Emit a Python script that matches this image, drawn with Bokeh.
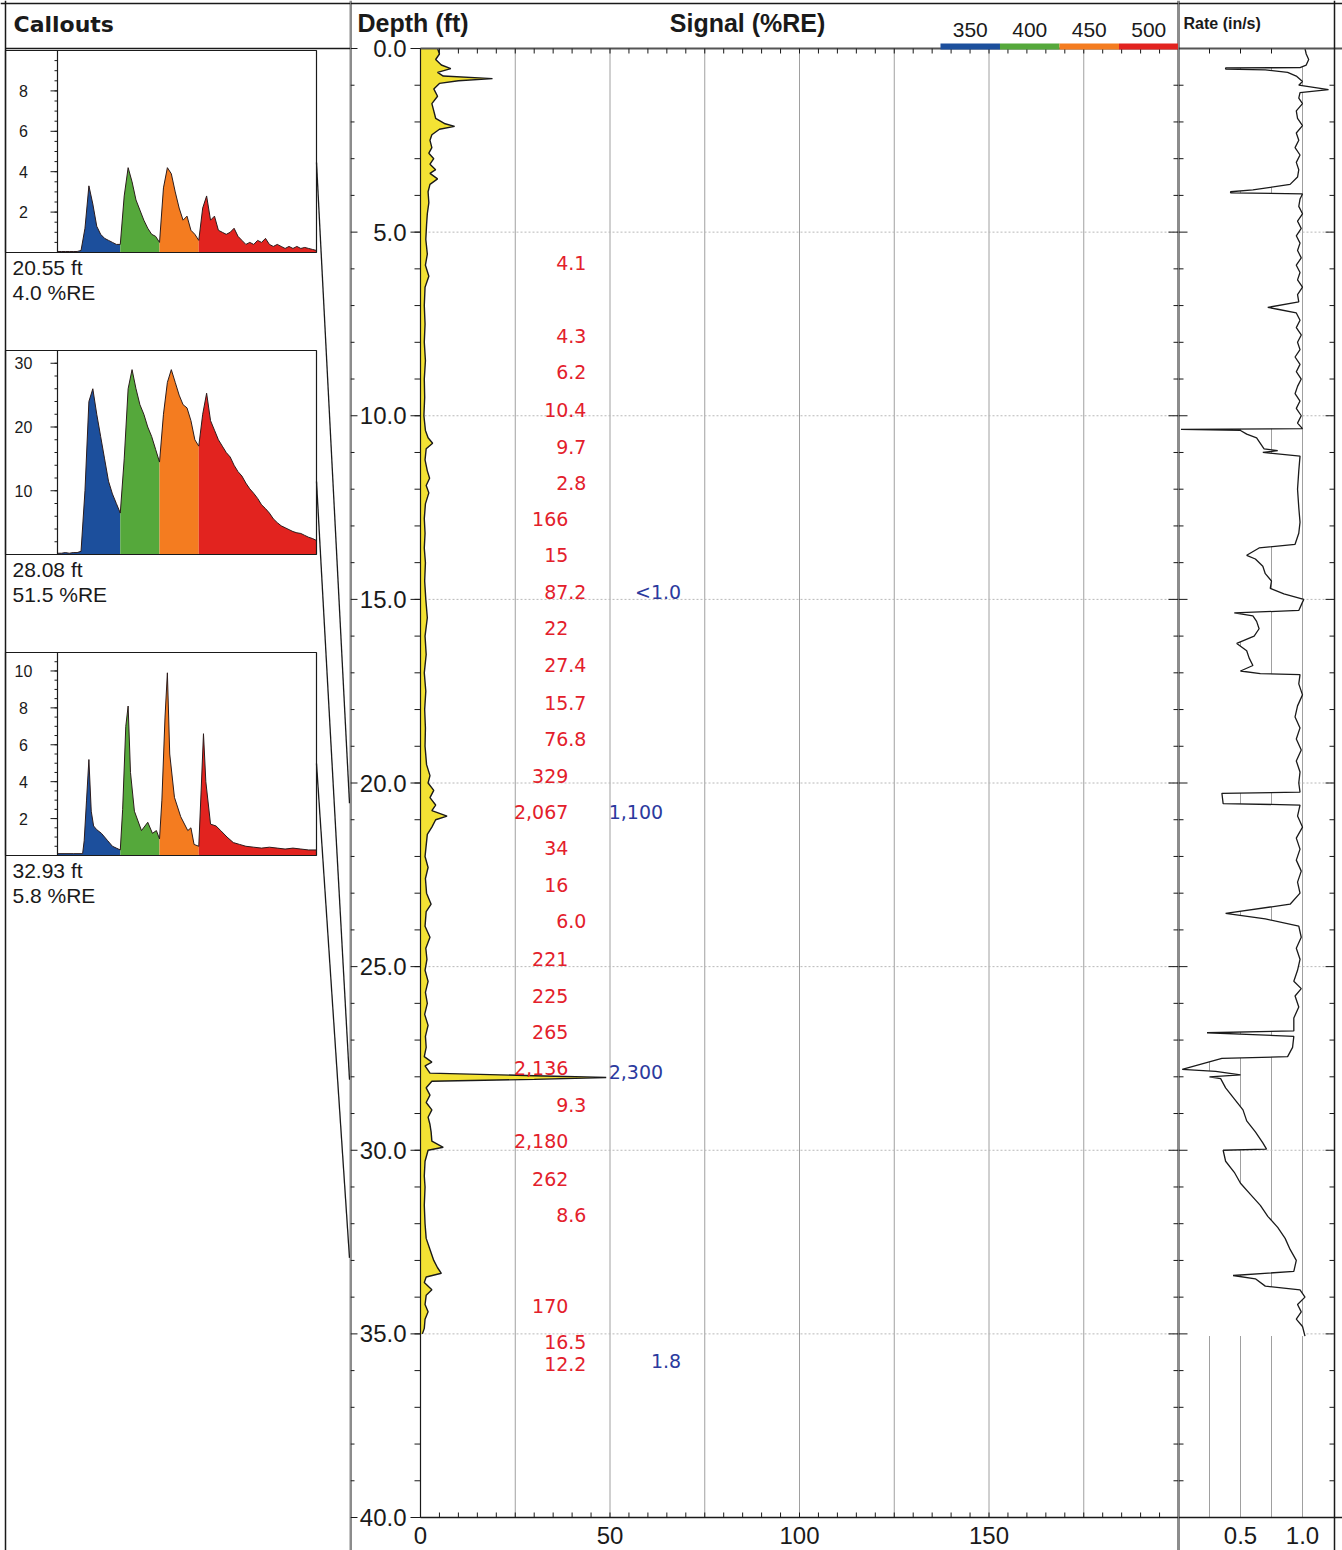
from bokeh.plotting import figure
from bokeh.models import Range1d, ColumnDataSource
from bokeh.layouts import row
from bokeh.embed import file_html
from bokeh.resources import INLINE
from bokeh.core.properties import value

# ---------------------------------------------------------------- data
channel_names = ["350", "400", "450", "500"]
channel_colors = ["#1c4f9c", "#55a83b", "#f47c20", "#e2231f"]
channel_edges = [320, 400, 450, 500, 650]          # nm limits of each channel

callout_depth = [20.55, 28.08, 32.93]
callout_re = [4.0, 51.5, 5.8]
callout_ymax = [10.0, 32.0, 11.0]
callout_ticks = [[2, 4, 6, 8], [10, 20, 30], [2, 4, 6, 8, 10]]
callout_minor_step = [0.5, 2.0, 0.5]

wf_nm = list(range(320, 655, 5))
wf1_y = [0.05, 0.05, 0.05, 0.05, 0.05, 0.05, 0.1, 1.2, 3.3, 2.4,
         1.3, 0.9, 0.7, 0.6, 0.5, 0.4, 0.4, 2.8, 4.2, 3.5,
         2.6, 2.1, 1.6, 1.2, 0.9, 0.8, 0.5, 3.2, 4.2, 3.9,
         3.0, 2.2, 1.6, 1.8, 1.1, 0.9, 0.6, 2.2, 2.8, 1.6,
         1.8, 1.1, 1.0, 0.9, 1.0, 1.2, 0.8, 0.6, 0.4, 0.5,
         0.4, 0.6, 0.5, 0.7, 0.4, 0.3, 0.4, 0.3, 0.2, 0.3,
         0.2, 0.3, 0.2, 0.25, 0.2, 0.15, 0.1]
wf2_y = [0.2, 0.2, 0.3, 0.2, 0.3, 0.3, 0.5, 10, 24, 26,
         22, 18.5, 15, 11.5, 9.5, 8, 6.5, 15, 26, 29,
         26, 23.5, 22, 20, 18.5, 16.5, 14.5, 22, 27, 29,
         27, 25, 23.5, 23, 21, 18, 17, 22, 25.3, 21,
         19.5, 18, 17, 16, 15.3, 14, 13, 12.3, 11.2, 10.3,
         9.6, 8.8, 7.8, 7.2, 6.5, 5.6, 5, 4.5, 4.2, 3.9,
         3.6, 3.4, 3.3, 3.0, 2.7, 2.5, 2.2]
wf3_x = [320, 340, 352, 354, 357, 360, 363, 366, 370, 376,
         384, 390, 395, 400, 403, 407, 410, 413, 418, 427,
         435, 441, 446, 450, 453, 457, 460, 463, 469, 477,
         486, 490, 494, 500, 503, 506, 509, 515, 522, 528,
         536, 544, 552, 560, 570, 580, 590, 600, 610, 620,
         630, 640, 650]
wf3_y = [0.1, 0.1, 0.1, 0.8, 3.0, 5.2, 2.4, 1.6, 1.4, 1.2,
         0.8, 0.5, 0.4, 0.3, 2.5, 7.0, 8.1, 4.5, 2.4, 1.35,
         1.8, 1.2, 1.35, 0.9, 3.0, 7.5, 9.9, 5.5, 3.15, 2.1,
         1.35, 1.5, 0.6, 0.5, 3.5, 6.6, 4.0, 1.7, 1.6, 1.35,
         1.0, 0.7, 0.6, 0.5, 0.45, 0.4, 0.45, 0.4, 0.35, 0.4,
         0.35, 0.3, 0.3]
waveforms = [(wf_nm, wf1_y), (wf_nm, wf2_y), (wf3_x, wf3_y)]

sig_depth = [0.0, 0.15, 0.3, 0.45, 0.55, 0.65, 0.75, 0.82, 0.88, 0.95,
             1.1, 1.3, 1.5, 1.7, 1.9, 2.05, 2.12, 2.2, 2.35, 2.5,
             2.7, 2.85, 3.0, 3.15, 3.3, 3.4, 3.55, 3.7, 3.9, 4.2,
             4.5, 4.8, 5.2, 5.6, 5.9, 6.2, 6.5, 7.0, 7.5, 8.0,
             8.5, 9.0, 9.5, 10.0, 10.4, 10.6, 10.75, 10.9, 11.2, 11.5,
             11.7, 11.9, 12.1, 12.4, 12.8, 13.2, 13.6, 14.0, 14.5, 15.0,
             15.5, 16.0, 16.5, 17.0, 17.5, 18.0, 18.5, 19.0, 19.5, 19.8,
             20.0, 20.2, 20.4, 20.6, 20.75, 20.9, 21.0, 21.2, 21.4, 21.7,
             22.0, 22.3, 22.6, 23.0, 23.3, 23.5, 23.9, 24.2, 24.5, 24.8,
             25.1, 25.4, 25.7, 26.0, 26.3, 26.6, 26.9, 27.2, 27.45, 27.6,
             27.7, 27.9, 27.97, 28.02, 28.07, 28.12, 28.3, 28.5, 28.7, 28.9,
             29.1, 29.3, 29.5, 29.75, 29.92, 30.0, 30.3, 30.7, 31.0, 31.5,
             32.0, 32.4, 32.7, 33.0, 33.2, 33.35, 33.45, 33.6, 33.8, 33.95,
             34.2, 34.4, 34.6, 34.85, 35.0]
sig_value = [4.5, 5.0, 4.0, 5.5, 8.0, 4.5, 6.0, 19.0, 10.0, 5.0,
             3.5, 4.5, 3.0, 3.5, 4.0, 6.5, 9.0, 5.0, 3.0, 2.5,
             3.0, 2.2, 3.5, 2.5, 4.0, 2.5, 4.5, 2.5, 2.0, 2.2,
             1.8, 1.6, 1.4, 1.8, 1.3, 2.2, 1.2, 1.0, 1.2, 1.0,
             1.3, 1.0, 1.1, 0.9, 1.3, 2.0, 3.2, 1.5, 1.2, 1.8,
             2.4, 1.5, 2.2, 1.3, 1.0, 1.2, 1.0, 1.3, 1.1, 1.4,
             1.8, 1.2, 1.5, 1.0, 1.4, 1.1, 1.3, 1.2, 1.6, 2.5,
             2.0, 3.5, 2.5, 4.0, 3.0, 7.0, 4.0, 3.0, 1.8, 1.5,
             1.2, 2.0, 1.3, 1.6, 2.8, 1.5, 1.2, 2.5, 1.4, 1.7,
             1.2, 2.0, 1.3, 1.8, 1.1, 2.0, 1.3, 1.5, 1.0, 3.0,
             1.2, 2.5, 30.0, 49.0, 30.0, 3.0, 1.5, 2.5, 1.5, 3.0,
             2.0, 2.5, 2.8, 3.0, 6.0, 2.0, 1.2, 1.0, 1.2, 1.0,
             1.2, 1.5, 2.5, 3.5, 4.5, 5.5, 1.5, 1.0, 3.0, 1.5,
             1.2, 2.0, 1.2, 1.0, 0.5]

rate_depth = [0.0, 0.15, 0.3, 0.45, 0.52, 0.53, 0.56, 0.58, 0.65, 0.75,
              0.9, 1.0, 1.12, 1.2, 1.35, 1.5, 1.7, 1.9, 2.1, 2.3,
              2.5, 2.7, 2.9, 3.1, 3.3, 3.5, 3.7, 3.85, 3.9, 3.93,
              3.96, 4.1, 4.3, 4.5, 4.7, 4.9, 5.1, 5.3, 5.5, 5.7,
              5.9, 6.1, 6.3, 6.5, 6.7, 6.9, 7.05, 7.1, 7.2, 7.4,
              7.6, 7.8, 8.0, 8.2, 8.4, 8.6, 8.8, 9.0, 9.2, 9.4,
              9.6, 9.8, 10.0, 10.2, 10.35, 10.37, 10.4, 10.5, 10.6, 10.75,
              10.9, 10.95, 11.0, 11.1, 11.5, 12.0, 12.5, 12.9, 13.2, 13.5,
              13.6, 13.8, 13.9, 14.1, 14.3, 14.5, 14.7, 14.85, 15.0, 15.3,
              15.37, 15.45, 15.6, 15.8, 16.0, 16.2, 16.4, 16.6, 16.8, 16.95,
              17.02, 17.05, 17.3, 17.6, 17.9, 18.2, 18.5, 18.8, 19.1, 19.4,
              19.7, 20.0, 20.25, 20.28, 20.56, 20.6, 20.9, 21.2, 21.5, 21.8,
              22.1, 22.4, 22.7, 23.0, 23.3, 23.55, 23.7, 23.9, 24.2, 24.5,
              24.8, 25.1, 25.4, 25.6, 25.8, 26.1, 26.4, 26.75, 26.8, 26.85,
              26.9, 27.2, 27.45, 27.5, 27.8, 27.85, 27.95, 28.0, 28.05, 28.3,
              28.6, 28.9, 29.2, 29.5, 29.8, 29.97, 30.0, 30.3, 30.6, 30.9,
              31.2, 31.5, 31.8, 32.1, 32.4, 32.7, 33.0, 33.3, 33.41, 33.5,
              33.7, 33.8, 34.0, 34.2, 34.4, 34.6, 34.8, 35.06]
rate_value = [1.02, 1.03, 1.05, 1.03, 0.98, 0.38, 0.38, 0.7, 0.88, 0.95,
              1.0, 0.97, 1.21, 0.98, 0.97, 1.0, 0.95, 0.96, 1.0, 0.95,
              0.97, 0.94, 0.98, 0.95, 0.97, 0.96, 0.9, 0.6, 0.42, 0.42,
              1.0, 0.98, 0.97, 1.0, 0.96, 0.99, 0.95, 0.98, 0.96, 0.99,
              0.95, 0.98, 0.96, 1.0, 0.96, 0.97, 0.72, 0.8, 0.95, 0.98,
              0.95, 0.99, 0.96, 0.98, 0.94, 0.98, 0.95, 0.99, 0.96, 0.94,
              0.98, 0.95, 0.99, 0.96, 1.0, 0.02, 0.5, 0.55, 0.63, 0.66,
              0.69, 0.8, 0.68, 0.98, 0.97, 0.96, 0.97, 0.98, 0.97, 0.94,
              0.65, 0.55, 0.62, 0.68, 0.7, 0.75, 0.74, 0.85, 1.01, 0.97,
              0.45, 0.6, 0.63, 0.65, 0.61, 0.47, 0.55, 0.57, 0.6, 0.5,
              0.66, 0.98, 0.97, 1.0, 0.96, 0.94, 0.98, 0.95, 0.99, 0.95,
              0.98, 0.97, 0.98, 0.35, 0.36, 0.98, 0.96, 1.0, 0.95, 0.98,
              0.95, 0.99, 0.96, 0.98, 0.9, 0.38, 0.7, 0.97, 0.99, 0.95,
              0.98, 0.96, 0.93, 0.99, 0.94, 0.97, 0.93, 0.93, 0.23, 0.6,
              0.93, 0.92, 0.88, 0.35, 0.03, 0.3, 0.5, 0.25, 0.34, 0.38,
              0.45, 0.52, 0.55, 0.62, 0.68, 0.71, 0.36, 0.38, 0.45, 0.5,
              0.58, 0.66, 0.72, 0.8, 0.86, 0.9, 0.95, 0.93, 0.44, 0.62,
              0.7, 0.98, 1.02, 0.96, 0.99, 0.95, 1.0, 1.02]

lab_depth = [5.85, 7.84, 8.82, 9.83, 10.84, 11.82, 12.82, 13.8, 14.79, 15.79,
             16.8, 17.81, 18.79, 19.8, 20.8, 21.78, 22.79, 23.77, 24.78, 25.79,
             26.77, 27.77, 28.77, 29.76, 30.77, 31.75, 34.23, 35.23, 35.83]
lab_text = ["4.1", "4.3", "6.2", "10.4", "9.7", "2.8", "166", "15", "87.2", "22",
            "27.4", "15.7", "76.8", "329", "2,067", "34", "16", "6.0", "221", "225",
            "265", "2,136", "9.3", "2,180", "262", "8.6", "170", "16.5", "12.2"]
blu_depth = [14.79, 20.8, 27.86, 35.73]
blu_text = ["<1.0", "1,100", "2,300", "1.8"]

depth_major = [0, 5, 10, 15, 20, 25, 30, 35, 40]
depth_minor = list(range(0, 41))
sig_ticks = [0, 50, 100, 150]
sig_minor = list(range(0, 201, 5))
sig_grid = [25, 50, 75, 100, 125, 150, 175]
rate_ticks = [0.5, 1.0]
rate_grid = [0.25, 0.5, 0.75, 1.0]
depth_grid = [5, 10, 15, 20, 25, 30, 35]

# ---------------------------------------------------------------- layout
W_LEFT, W_MAIN, W_RATE = 350, 828, 164
H = 1550
TOP_PX, BOT_PX = 48, 1517          # pixel rows of depth 0 and depth 40
DMAX = 40.0
K = (BOT_PX - TOP_PX) / DMAX
Y_TOP = -TOP_PX / K
Y_BOT = DMAX + (H - BOT_PX) / K
SIG_MAX = 200.0
SIG_PX = 758                       # data width of the signal track
U = SIG_MAX / SIG_PX               # signal units per pixel
SIG_LEFT = -(W_MAIN - SIG_PX) * U
RATE_PX = 124.0                    # pixels per in/s
RATE_EDGE = 156 / RATE_PX
FONT = "Liberation Sans"
VFONT = "DejaVu Sans"
INK = "#1a1a1a"
AX_SIZE = "24px"


def d_of(py):
    return (py - TOP_PX) / K


def make_fig(width, xr):
    p = figure(width=width, height=H, x_range=xr, y_range=Range1d(Y_BOT, Y_TOP),
               x_axis_location=None, y_axis_location=None,
               min_border_left=0, min_border_right=0, min_border_top=0, min_border_bottom=0,
               output_backend="svg", toolbar_location=None)
    p.grid.visible = False
    p.outline_line_color = None
    p.background_fill_color = "white"
    p.border_fill_color = "white"
    return p


def txt(p, x, y, t, size, font=FONT, bold=False, align="left", color=INK, **kw):
    p.text(x=x, y=y, text=t, text_font=value(font), text_font_size=value(size),
           text_font_style="bold" if bold else "normal", text_align=align,
           text_baseline="middle", text_color=color, **kw)


# ================================================================ left: callouts
left = make_fig(W_LEFT, Range1d(0, W_LEFT))
HX0, HX1 = 57, 316
boxes = [(50, 252), (350, 554), (652, 855)]
conn_start = [162, 481, 763]
nm_per_px = (channel_edges[-1] - channel_edges[0]) / (HX1 - HX0)
left.extra_x_ranges = {"hx": Range1d(channel_edges[0] - HX0 * nm_per_px,
                                     channel_edges[-1] + (W_LEFT - HX1) * nm_per_px)}
eyr = {"py": Range1d(H, 0)}
for i, (yt, yb) in enumerate(boxes):
    s = (yb - yt) / callout_ymax[i]
    eyr["hy%d" % i] = Range1d(-(H - yb) / s, callout_ymax[i] + yt / s)
left.extra_y_ranges = eyr

txt(left, [13], [24], ["Callouts"], "22px", font=VFONT, bold=True, y_range_name="py")

for i, (yt, yb) in enumerate(boxes):
    hy = "hy%d" % i
    xs, ys = waveforms[i]
    for c in range(4):
        lo, hi = channel_edges[c], channel_edges[c + 1]
        sx = [x for x in xs if lo <= x <= hi]
        sy = [y for x, y in zip(xs, ys) if lo <= x <= hi]
        left.varea(x=sx, y1=0, y2=sy, fill_color=channel_colors[c],
                   x_range_name="hx", y_range_name=hy)
    left.line(x=xs, y=ys, line_color="#2b1b1b", line_width=1,
              x_range_name="hx", y_range_name=hy)
    left.quad(left=5, right=HX1, top=yt, bottom=yb, fill_color=None,
              line_color=INK, line_width=1.2, y_range_name="py")
    left.segment(x0=HX0, y0=yt, x1=HX0, y1=yb, line_color=INK, line_width=1.2,
                 y_range_name="py")
    step = callout_minor_step[i]
    minors = [k * step for k in range(1, int(callout_ymax[i] / step) + 1)]
    left.segment(x0=HX0 - 3, y0=minors, x1=HX0, y1=minors, line_color=INK,
                 y_range_name=hy)
    tk = callout_ticks[i]
    left.segment(x0=HX0 - 7, y0=tk, x1=HX0, y1=tk, line_color=INK, y_range_name=hy)
    txt(left, [23] * len(tk), tk, [str(t) for t in tk], "16px", align="center",
        y_range_name=hy)
    txt(left, [12, 12], [yb + 15, yb + 40],
        ["%.2f ft" % callout_depth[i], "%.1f %%RE" % callout_re[i]], "21px",
        y_range_name="py")

left.segment(x0=[HX1] * 3, y0=[d_of(s) for s in conn_start], x1=[W_LEFT - 1] * 3,
             y1=callout_depth, line_color=INK, line_width=1.3)
left.vspan(x=[5], line_color=INK, line_width=1.5)
left.vspan(x=[W_LEFT - 0.5], line_color=INK, line_width=1.5)
left.hspan(y=[3], y_range_name="py", line_color=INK, line_width=1.5)
left.segment(x0=5, y0=0, x1=W_LEFT, y1=0, line_color=INK, line_width=1.5)

# ================================================================ main: signal
main = make_fig(W_MAIN, Range1d(SIG_LEFT, SIG_MAX))

main.segment(x0=sig_grid, y0=0, x1=sig_grid, y1=DMAX, line_color="#a0a0a0", line_width=1)
main.segment(x0=0, y0=depth_grid, x1=SIG_MAX, y1=depth_grid, line_color="#b8b8b8",
             line_width=1, line_dash="2 2")

main.harea(y=sig_depth, x1=0, x2=sig_value, fill_color="#f3e234")
main.line(x=sig_value, y=sig_depth, line_color=INK, line_width=1.4)

# value labels, aligned on the decimal point
RED_COL, BLUE_COL = 39.0, 64.0
for dep, labs, col, colr in [(lab_depth, lab_text, RED_COL, "#e3202b"),
                             (blu_depth, blu_text, BLUE_COL, "#2b3a9e")]:
    src = ColumnDataSource(dict(
        y=dep,
        ip=[t.split(".")[0] for t in labs],
        fp=["." + t.split(".")[1] if "." in t else "" for t in labs]))
    main.text(x=col, y="y", text="ip", source=src, text_align="right", text_baseline="middle",
              text_font=value(VFONT), text_font_size=value("19px"), text_color=colr)
    main.text(x=col, y="y", text="fp", source=src, text_align="left", text_baseline="middle",
              text_font=value(VFONT), text_font_size=value("19px"), text_color=colr)

# depth axis (left of the track)
main.segment(x0=0, y0=0, x1=0, y1=DMAX, line_color=INK, line_width=1.2)
main.segment(x0=-6 * U, y0=depth_minor, x1=0, y1=depth_minor, line_color=INK)
main.segment(x0=-10 * U, y0=depth_major, x1=0, y1=depth_major, line_color=INK)
txt(main, [-14 * U] * len(depth_major), depth_major, ["%.1f" % d for d in depth_major],
    AX_SIZE, align="right")
# border at the left of the depth column
main.vspan(x=[SIG_LEFT], line_color=INK, line_width=2)
main.segment(x0=SIG_LEFT, y0=depth_minor,
             x1=[SIG_LEFT + (7 if d % 5 == 0 else 4) * U for d in depth_minor],
             y1=depth_minor, line_color=INK)
# signal axis (bottom)
main.segment(x0=0, y0=DMAX, x1=SIG_MAX, y1=DMAX, line_color=INK, line_width=1.5)
main.segment(x0=sig_minor, y0=DMAX, x1=sig_minor, y1=DMAX - 5 / K, line_color=INK)
txt(main, sig_ticks, [DMAX + 18 / K] * len(sig_ticks), [str(t) for t in sig_ticks],
    AX_SIZE, align="center")
# top and right edges
main.hspan(y=[d_of(3)], line_color=INK, line_width=1.5)
main.segment(x0=0, y0=0, x1=SIG_MAX, y1=0, line_color="#555555", line_width=2)
main.vspan(x=[SIG_MAX], line_color=INK, line_width=2)
main.segment(x0=sig_minor, y0=0, x1=sig_minor, y1=5 / K, line_color=INK)
ft_ticks = depth_minor[1:-1]
main.segment(x0=[SIG_MAX - (10 if f % 5 == 0 else 5) * U for f in ft_ticks], y0=ft_ticks,
             x1=SIG_MAX, y1=ft_ticks, line_color=INK)

# header
txt(main, [SIG_LEFT + 7 * U], [d_of(22)], ["Depth (ft)"], "25px", bold=True)
txt(main, [86.3], [d_of(22)], ["Signal (%RE)"], "25px", bold=True, align="center")
LEG_X0, LEG_W = 137.2, 15.7
leg_l = [LEG_X0 + i * LEG_W for i in range(len(channel_names))]
main.quad(left=leg_l, right=[l + LEG_W for l in leg_l], top=d_of(43), bottom=d_of(49),
          fill_color=channel_colors, line_color=None)
txt(main, [l + LEG_W / 2 for l in leg_l], [d_of(29)] * 4, channel_names, "21px",
    align="center")

# ================================================================ right: rate
rate = make_fig(W_RATE, Range1d(0, W_RATE / RATE_PX))
rate.segment(x0=rate_grid, y0=0, x1=rate_grid, y1=DMAX, line_color="#a0a0a0", line_width=1)
rate.segment(x0=0, y0=depth_grid, x1=RATE_EDGE, y1=depth_grid, line_color="#b8b8b8",
             line_width=1, line_dash="2 2")
rate.harea(y=rate_depth, x1=0, x2=rate_value, fill_color="white")
rate.line(x=rate_value, y=rate_depth, line_color=INK, line_width=1.3)

rate.hspan(y=[d_of(3)], line_color=INK, line_width=1.5)
rate.hspan(y=[0], line_color="#555555", line_width=2)
rate.vspan(x=[0], line_color=INK, line_width=2)
rate.vspan(x=[RATE_EDGE], line_color=INK, line_width=1.5)
rate.segment(x0=0, y0=ft_ticks, x1=[(9 if f % 5 == 0 else 5) / RATE_PX for f in ft_ticks],
             y1=ft_ticks, line_color=INK)
rate.segment(x0=[RATE_EDGE - (9 if f % 5 == 0 else 5) / RATE_PX for f in ft_ticks],
             y0=ft_ticks, x1=RATE_EDGE, y1=ft_ticks, line_color=INK)
rate.segment(x0=rate_grid[:3], y0=0, x1=rate_grid[:3], y1=5 / K, line_color=INK)
rate.segment(x0=0, y0=DMAX, x1=W_RATE / RATE_PX, y1=DMAX, line_color=INK, line_width=1.5)
txt(rate, rate_ticks, [DMAX + 18 / K] * 2, ["%.1f" % t for t in rate_ticks], AX_SIZE,
    align="center")
txt(rate, [5 / RATE_PX], [d_of(23)], ["Rate (in/s)"], "16px", bold=True)

layout = row(left, main, rate)
open("out.html", "w").write(file_html(layout, INLINE, "chart"))
